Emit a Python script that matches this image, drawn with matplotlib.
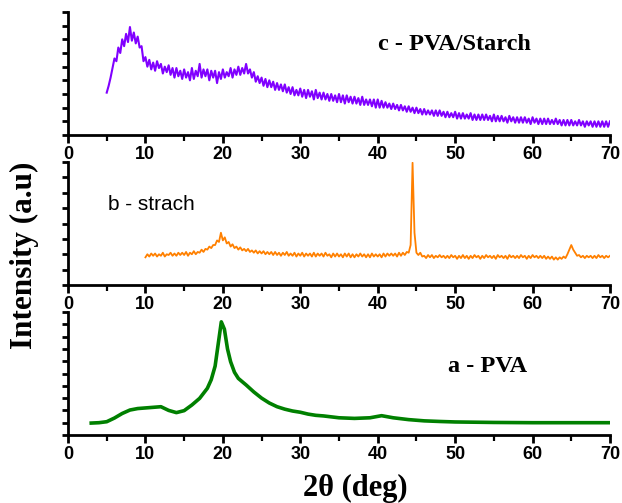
import numpy as np
import matplotlib.pyplot as plt
from matplotlib.ticker import MultipleLocator

# c - PVA/Starch, 2theta 5..70 step 0.25
pvs_y = [
    3.1, 3.6, 4.2, 4.9, 5.6, 5.4, 6.4, 6.0, 7.0, 6.5, 7.4, 6.8,
    7.9, 6.9, 7.5, 6.7, 7.2, 6.4, 6.5, 5.4, 5.7, 5.0, 5.5, 4.8,
    5.3, 4.7, 5.4, 4.9, 5.2, 4.5, 5.0, 4.6, 5.1, 4.4, 4.9, 4.2,
    4.9, 4.3, 4.7, 4.1, 4.8, 4.2, 4.6, 4.0, 4.9, 4.1, 4.7, 4.3,
    5.2, 4.2, 4.8, 4.3, 4.8, 4.0, 4.7, 4.2, 4.7, 3.8, 4.6, 4.1,
    4.8, 4.2, 4.6, 4.3, 4.9, 4.2, 4.8, 4.4, 5.0, 4.4, 4.9, 4.5,
    5.2, 4.5, 4.8, 4.2, 4.6, 3.9, 4.3, 3.8, 4.2, 3.6, 4.1, 3.5,
    4.0, 3.5, 3.9, 3.3, 3.8, 3.3, 3.7, 3.2, 3.7, 3.1, 3.5, 3.0,
    3.5, 2.9, 3.3, 2.9, 3.4, 2.8, 3.3, 2.7, 3.3, 2.8, 3.2, 2.6,
    3.3, 2.7, 3.1, 2.6, 3.1, 2.6, 3.0, 2.5, 3.0, 2.5, 2.9, 2.4,
    3.0, 2.4, 2.9, 2.3, 2.9, 2.4, 2.8, 2.3, 2.8, 2.3, 2.7, 2.2,
    2.8, 2.2, 2.6, 2.2, 2.6, 2.1, 2.6, 2.0, 2.6, 2.0, 2.5, 2.0,
    2.4, 2.0, 2.3, 1.9, 2.3, 1.9, 2.2, 1.8, 2.2, 1.8, 2.1, 1.7,
    2.1, 1.7, 2.0, 1.6, 2.0, 1.6, 1.9, 1.5, 1.9, 1.5, 1.8, 1.5,
    1.8, 1.4, 1.8, 1.4, 1.8, 1.4, 1.7, 1.3, 1.7, 1.3, 1.6, 1.3,
    1.7, 1.2, 1.6, 1.2, 1.6, 1.2, 1.5, 1.2, 1.6, 1.1, 1.5, 1.1,
    1.5, 1.1, 1.5, 1.1, 1.5, 1.1, 1.4, 1.0, 1.5, 1.0, 1.4, 1.0,
    1.4, 1.0, 1.3, 0.9, 1.4, 1.0, 1.3, 0.9, 1.3, 0.9, 1.3, 0.9,
    1.3, 0.9, 1.2, 0.8, 1.3, 0.9, 1.2, 0.8, 1.2, 0.8, 1.2, 0.8,
    1.2, 0.8, 1.1, 0.8, 1.2, 0.8, 1.1, 0.7, 1.1, 0.7, 1.1, 0.7,
    1.1, 0.7, 1.0, 0.7, 1.1, 0.7, 1.0, 0.6, 1.0, 0.7, 1.0, 0.6,
    1.0, 0.6, 1.0, 0.6, 1.0, 0.6, 1.0, 0.6, 1.0,
]

# b - strach, 2theta 10..70 step 0.25
starch_y = [
    1.8, 2.0, 1.85, 2.05, 1.9, 2.05, 1.85, 2.0, 1.9, 2.1, 1.85, 2.0,
    1.95, 2.1, 1.9, 2.05, 1.9, 2.1, 1.95, 2.1, 1.95, 2.15, 1.9, 2.1,
    2.0, 2.2, 2.0, 2.15, 2.1, 2.3, 2.15, 2.35, 2.3, 2.5, 2.4, 2.6,
    2.6, 2.9, 2.8, 3.4, 2.9, 3.1, 2.7, 2.8, 2.5, 2.65, 2.4, 2.5,
    2.3, 2.45, 2.25, 2.35, 2.2, 2.35, 2.15, 2.25, 2.1, 2.25, 2.05, 2.2,
    2.05, 2.2, 2.0, 2.15, 2.0, 2.15, 1.95, 2.15, 1.95, 2.1, 1.9, 2.1,
    1.95, 2.15, 1.9, 2.05, 1.9, 2.1, 1.85, 2.05, 1.9, 2.1, 1.85, 2.05,
    1.9, 2.05, 1.85, 2.1, 1.85, 2.05, 1.9, 2.05, 1.85, 2.1, 1.9, 2.0,
    1.8, 2.05, 1.85, 2.05, 1.85, 2.0, 1.8, 2.05, 1.85, 2.05, 1.8, 2.0,
    1.8, 2.0, 1.85, 2.05, 1.85, 2.0, 1.8, 2.0, 1.8, 2.05, 1.85, 2.0,
    1.85, 2.0, 1.8, 2.05, 1.85, 2.05, 1.9, 2.05, 1.9, 2.05, 1.85, 2.1,
    1.9, 2.1, 1.95, 2.15, 2.1, 2.6, 7.95, 3.4, 2.1, 1.95, 2.1, 1.85,
    1.9, 1.75, 1.95, 1.8, 1.95, 1.75, 1.9, 1.8, 1.95, 1.8, 1.9, 1.75,
    1.9, 1.75, 1.95, 1.8, 1.9, 1.7, 1.9, 1.75, 1.95, 1.75, 1.9, 1.7,
    1.9, 1.75, 1.95, 1.8, 1.9, 1.7, 1.9, 1.75, 1.95, 1.8, 1.9, 1.75,
    1.9, 1.7, 1.95, 1.8, 1.9, 1.75, 1.9, 1.7, 1.95, 1.8, 1.9, 1.75,
    1.9, 1.75, 1.95, 1.8, 1.9, 1.7, 1.9, 1.75, 1.95, 1.8, 1.9, 1.75,
    1.9, 1.75, 1.9, 1.7, 1.85, 1.7, 1.85, 1.65, 1.8, 1.65, 1.8, 1.7,
    1.85, 1.75, 2.0, 2.3, 2.6, 2.3, 2.1, 1.9, 1.95, 1.8, 1.9, 1.75,
    1.9, 1.8, 1.9, 1.75, 1.9, 1.75, 1.95, 1.8, 1.9, 1.75, 1.9, 1.8,
    1.9,
]

# a - PVA (smooth)
pva_x = [3, 4, 5, 6, 7, 8, 9, 10, 11, 12, 13, 14, 15, 16, 17, 18, 18.5, 19,
         19.4, 19.8, 20.2, 20.6, 21, 21.5, 22, 23, 24, 25, 26, 27, 28, 29, 30,
         31, 32, 33, 35, 37, 39, 40.5, 42, 44, 46, 48, 50, 55, 60, 65, 70]
pva_y = [0.97, 1.0, 1.08, 1.38, 1.75, 2.03, 2.15, 2.2, 2.25, 2.3, 2.0, 1.82,
         1.98, 2.44, 2.98, 3.8, 4.5, 5.6, 7.4, 9.2, 8.6, 7.0, 5.96, 5.1, 4.6,
         4.07, 3.5, 3.0, 2.6, 2.3, 2.1, 1.95, 1.85, 1.7, 1.6, 1.55, 1.4, 1.35,
         1.4, 1.57, 1.4, 1.25, 1.15, 1.1, 1.06, 1.02, 1.0, 1.0, 1.0]

pvs_x = np.arange(len(pvs_y)) * 0.25 + 5
starch_x = np.arange(len(starch_y)) * 0.25 + 10

sans = 'Liberation Sans'
serif = 'Liberation Serif'

fig = plt.figure(figsize=(6.22, 5.03), dpi=100)
W, H = 622, 503


def panel(top, bottom, ymax):
    ax = fig.add_axes([68 / W, 1 - bottom / H, 542 / W, (bottom - top) / H])
    ax.set_xlim(0, 70)
    ax.set_ylim(0, ymax)
    ax.spines['top'].set_visible(False)
    ax.spines['right'].set_visible(False)
    ax.spines['left'].set_linewidth(2)
    ax.spines['bottom'].set_linewidth(2)
    ax.xaxis.set_major_locator(MultipleLocator(10))
    ax.xaxis.set_minor_locator(MultipleLocator(5))
    ax.yaxis.set_major_locator(MultipleLocator(1))
    ax.tick_params(axis='x', which='major', length=6, width=2, direction='out', pad=2)
    ax.tick_params(axis='x', which='minor', length=4, width=1.6, direction='out')
    ax.tick_params(axis='y', which='major', length=4, width=2, direction='out',
                   labelleft=False)
    for lab in ax.get_xticklabels():
        lab.set_fontfamily(sans)
        lab.set_fontweight('bold')
        lab.set_fontsize(13)
    return ax


ax_c = panel(12, 135, 9)
ax_c.plot(pvs_x, pvs_y, color='#8000ff', lw=1.5)
ax_c.text(40.1, 6.6, 'c - PVA/Starch', family=serif, weight='bold', fontsize=17.5,
          va='center')

ax_b = panel(162, 285, 8)
ax_b.plot(starch_x, starch_y, color='#ff8000', lw=1.3)
ax_b.text(5.2, 5.25, 'b - strach', family=sans, fontsize=15, va='center')

ax_a = panel(312, 435, 10)
ax_a.plot(pva_x, pva_y, color='#008000', lw=2.6)
ax_a.text(49.1, 5.6, 'a - PVA', family=serif, weight='bold', fontsize=17.5,
          va='center')

fig.text(24 / W, 1 - 255 / H, 'Intensity (a.u)', family=serif, weight='bold',
         fontsize=22.5, rotation=90, ha='center', va='center')
fig.text(355 / W, 1 - 488 / H, '2θ (deg)', family=serif, weight='bold',
         fontsize=22, ha='center', va='center')

fig.savefig('out.png', dpi=100)
